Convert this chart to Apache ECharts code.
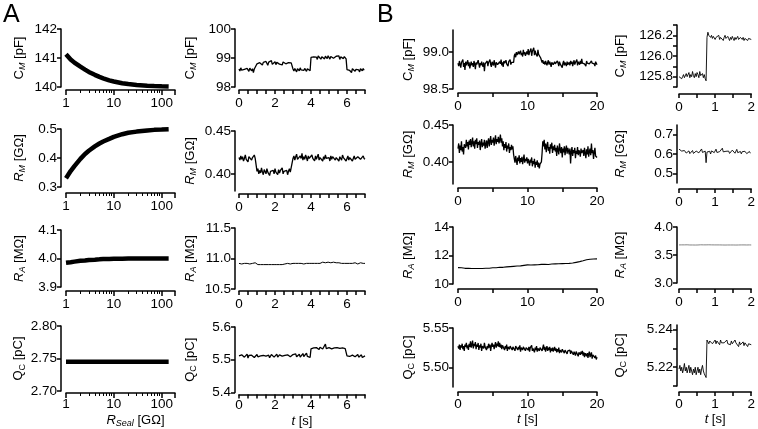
<!DOCTYPE html>
<html><head><meta charset="utf-8">
<script src="https://cdn.jsdelivr.net/npm/echarts@6/dist/echarts.min.js"></script>
<style>html,body{margin:0;padding:0;background:#fff}#c{width:758px;height:429px}</style>
</head><body><div id="c"></div>
<script>
// ================= DATA =================
// Panel A, column 1: dependence on seal resistance (GΩ)
const rSeal = [1,1.25,1.5,2,2.5,3,4,5,6,8,10,15,20,30,50,70,100,140];
const cmSeal = [141.13,140.95,140.84,140.70,140.6,140.52,140.42,140.35,140.3,140.23,140.19,140.13,140.1,140.07,140.045,140.035,140.025,140.02];
const rmSeal = [0.33,0.355,0.372,0.397,0.414,0.425,0.44,0.45,0.457,0.466,0.473,0.482,0.487,0.491,0.495,0.497,0.498,0.499];
const raSeal = [3.985,3.987,3.989,3.992,3.993,3.995,3.996,3.997,3.998,3.998,3.999,3.999,4.0,4.0,4.0,4.0,4.0,4.0];
const qcSeal = [2.745,2.745,2.745,2.745,2.745,2.745,2.745,2.745,2.745,2.745,2.745,2.745,2.745,2.745,2.745,2.745,2.745,2.745];

// Panel A, column 2: time traces, sample interval (s)
const dtA = 0.05;
const cmA = [98.62,98.55,98.66,98.58,98.63,98.52,98.61,98.67,98.57,98.64,98.59,98.54,98.65,98.6,98.56,98.63,98.5,98.62,98.58,98.64,
98.8,98.86,98.78,98.84,98.9,98.81,98.76,98.85,98.83,98.79,98.88,98.82,98.75,98.86,98.8,98.84,98.91,98.78,98.83,98.8,
98.87,98.77,98.85,98.82,98.89,98.79,98.84,98.81,98.76,98.86,98.83,98.9,98.8,98.85,98.78,98.84,98.88,98.8,98.83,98.79,
98.62,98.55,98.64,98.58,98.52,98.63,98.6,98.56,98.66,98.59,98.53,98.62,98.57,98.64,98.6,98.54,98.63,98.58,98.61,98.56,
99.02,99.06,98.97,99.04,99.1,98.98,99.03,98.95,99.07,99.01,99.05,98.96,99.04,99.09,99.0,98.97,99.06,99.02,98.98,99.08,
99.03,98.96,99.05,99.01,99.1,98.99,99.04,98.97,99.06,99.02,99.0,99.07,98.95,99.04,99.01,99.08,98.98,99.05,99.02,98.97,
98.6,98.55,98.64,98.57,98.62,98.5,98.63,98.58,98.66,98.54,98.61,98.57,98.65,98.59,98.52,98.63,98.6,98.56,98.64,98.58,98.62];
const rmA = [0.419,0.416,0.421,0.417,0.42,0.415,0.418,0.422,0.417,0.419,0.414,0.42,0.418,0.421,0.416,0.419,0.417,0.422,0.418,0.416,
0.403,0.406,0.4,0.404,0.401,0.407,0.402,0.399,0.405,0.403,0.4,0.406,0.402,0.404,0.398,0.403,0.405,0.401,0.404,0.4,
0.406,0.402,0.403,0.399,0.405,0.401,0.404,0.402,0.407,0.4,0.403,0.405,0.401,0.404,0.399,0.403,0.406,0.402,0.404,0.401,
0.418,0.421,0.416,0.42,0.423,0.417,0.419,0.415,0.421,0.418,0.424,0.416,0.42,0.417,0.422,0.419,0.415,0.421,0.418,0.42,
0.416,0.422,0.418,0.419,0.415,0.421,0.417,0.42,0.423,0.416,0.419,0.418,0.421,0.415,0.42,0.417,0.422,0.418,0.416,0.42,
0.419,0.415,0.421,0.417,0.42,0.418,0.422,0.416,0.419,0.417,0.421,0.415,0.42,0.418,0.416,0.422,0.419,0.417,0.42,0.415,
0.418,0.421,0.416,0.419,0.417,0.42,0.415,0.418,0.421,0.417,0.419,0.416,0.42,0.418,0.422,0.417,0.419,0.416,0.421,0.418,0.417];
const raA = [10.92,10.93,10.92,10.91,10.93,10.92,10.92,10.93,10.91,10.92,10.93,10.92,10.91,10.92,10.93,10.92,10.92,10.91,10.93,10.92,
10.91,10.9,10.91,10.92,10.9,10.91,10.91,10.9,10.92,10.91,10.9,10.91,10.92,10.9,10.91,10.91,10.9,10.92,10.91,10.9,
10.91,10.92,10.9,10.91,10.91,10.9,10.92,10.91,10.9,10.91,10.92,10.91,10.9,10.91,10.92,10.9,10.91,10.91,10.9,10.91,
10.92,10.93,10.92,10.92,10.93,10.91,10.92,10.93,10.92,10.92,10.93,10.92,10.91,10.93,10.92,10.92,10.93,10.92,10.92,10.93,
10.93,10.92,10.93,10.94,10.92,10.93,10.93,10.92,10.94,10.93,10.92,10.93,10.93,10.94,10.92,10.93,10.93,10.92,10.93,10.94,
10.93,10.92,10.93,10.93,10.92,10.94,10.93,10.92,10.93,10.92,10.93,10.93,10.92,10.93,10.92,10.92,10.93,10.92,10.93,10.92,
10.92,10.92,10.91,10.92,10.93,10.92,10.92,10.91,10.92,10.93,10.92,10.92,10.91,10.92,10.92,10.93,10.92,10.91,10.92,10.92,10.92];
const qcA = [5.512,5.518,5.506,5.515,5.51,5.52,5.508,5.514,5.511,5.517,5.505,5.513,5.516,5.509,5.514,5.51,5.519,5.507,5.513,5.511,
5.516,5.509,5.514,5.504,5.512,5.518,5.51,5.513,5.507,5.515,5.511,5.517,5.509,5.514,5.506,5.512,5.516,5.51,5.513,5.508,
5.514,5.51,5.517,5.508,5.513,5.515,5.509,5.518,5.511,5.514,5.507,5.513,5.516,5.51,5.515,5.512,5.518,5.509,5.514,5.511,
5.516,5.51,5.513,5.518,5.509,5.515,5.512,5.517,5.508,5.514,5.511,5.519,5.51,5.515,5.513,5.52,5.51,5.516,5.512,5.507,
5.533,5.538,5.53,5.536,5.541,5.532,5.537,5.534,5.54,5.531,5.538,5.535,5.543,5.533,5.539,5.536,5.548,5.534,5.538,5.532,
5.537,5.535,5.541,5.533,5.538,5.531,5.536,5.54,5.534,5.537,5.532,5.539,5.535,5.538,5.531,5.536,5.533,5.537,5.534,5.53,
5.512,5.508,5.515,5.51,5.513,5.506,5.514,5.511,5.517,5.509,5.513,5.51,5.516,5.508,5.514,5.511,5.515,5.507,5.513,5.51,5.512];

// Panel B, column 3: 20 s traces
const dtB = 0.1;
const cmB = [98.85,98.81,98.88,98.83,98.79,98.86,98.84,98.9,98.8,98.85,98.76,98.87,98.82,98.84,98.89,98.81,98.86,98.78,98.83,98.87,
98.82,98.85,98.8,98.88,98.84,98.77,98.86,98.83,98.81,98.89,98.84,98.79,98.85,98.82,98.87,98.83,98.8,98.86,98.74,98.84,
98.85,98.82,98.88,98.81,98.86,98.84,98.9,98.83,98.8,98.87,98.85,98.82,98.89,98.84,98.79,98.86,98.88,98.83,98.85,98.81,
98.87,98.84,98.9,98.82,98.86,98.8,98.88,98.85,98.83,98.89,98.84,98.86,98.81,98.87,98.85,98.9,98.83,98.86,98.84,98.88,
98.86,98.95,98.98,98.93,99.0,98.96,98.94,99.01,98.97,98.95,99.02,98.96,98.99,98.94,99.03,98.97,99.0,98.95,98.98,99.01,
98.97,99.04,98.96,99.0,98.98,99.05,98.95,99.01,98.99,99.06,98.96,99.02,98.98,99.0,98.94,99.03,98.97,98.99,98.95,98.92,
98.9,98.86,98.89,98.84,98.87,98.83,98.88,98.85,98.82,98.86,98.89,98.83,98.87,98.84,98.8,98.86,98.88,98.83,98.85,98.87,
98.84,98.86,98.82,98.88,98.85,98.81,98.87,98.84,98.83,98.86,98.79,98.85,98.88,98.82,98.86,98.84,98.81,98.87,98.83,98.85,
98.86,98.82,98.88,98.84,98.87,98.81,98.85,98.89,98.83,98.86,98.84,98.9,98.82,98.87,98.85,98.83,98.88,98.84,98.91,98.85,
98.83,98.87,98.84,98.86,98.81,98.88,98.85,98.83,98.87,98.84,98.86,98.82,98.88,98.85,98.83,98.86,98.84,98.81,98.87,98.85,98.83];
const rmB = [0.418,0.425,0.412,0.422,0.416,0.428,0.414,0.42,0.41,0.424,0.426,0.419,0.43,0.421,0.427,0.417,0.429,0.423,0.431,0.42,
0.426,0.433,0.421,0.428,0.418,0.43,0.424,0.432,0.419,0.427,0.423,0.429,0.416,0.425,0.431,0.42,0.426,0.422,0.43,0.418,
0.424,0.429,0.419,0.427,0.432,0.421,0.428,0.435,0.423,0.43,0.426,0.433,0.422,0.429,0.436,0.424,0.431,0.427,0.434,0.425,
0.43,0.437,0.426,0.432,0.421,0.428,0.416,0.424,0.419,0.427,0.414,0.422,0.418,0.425,0.412,0.42,0.416,0.423,0.417,0.421,
0.41,0.404,0.399,0.408,0.402,0.396,0.406,0.401,0.409,0.398,0.405,0.4,0.407,0.397,0.403,0.41,0.399,0.404,0.401,0.406,
0.398,0.404,0.4,0.395,0.403,0.399,0.406,0.394,0.401,0.397,0.404,0.392,0.4,0.396,0.402,0.393,0.399,0.391,0.397,0.395,
0.4,0.412,0.428,0.421,0.43,0.417,0.425,0.413,0.422,0.427,0.415,0.42,0.411,0.424,0.418,0.426,0.412,0.421,0.416,0.423,
0.414,0.419,0.408,0.422,0.416,0.41,0.425,0.417,0.412,0.42,0.406,0.418,0.413,0.421,0.409,0.417,0.422,0.411,0.419,0.415,
0.41,0.418,0.398,0.414,0.42,0.408,0.416,0.412,0.419,0.405,0.415,0.411,0.42,0.409,0.416,0.413,0.407,0.418,0.412,0.41,
0.416,0.408,0.419,0.412,0.405,0.417,0.41,0.421,0.407,0.414,0.418,0.409,0.425,0.412,0.416,0.404,0.413,0.419,0.408,0.41,0.406];
const dtBra = 0.25;
const raB = [11.15,11.13,11.14,11.11,11.1,11.09,11.1,11.08,11.09,11.08,11.09,11.08,11.09,11.1,11.09,11.11,11.1,11.12,11.11,11.13,
11.14,11.15,11.14,11.16,11.17,11.18,11.17,11.19,11.2,11.21,11.22,11.21,11.24,11.25,11.26,11.28,11.27,11.3,11.31,11.32,
11.34,11.35,11.33,11.36,11.34,11.37,11.35,11.36,11.38,11.37,11.39,11.38,11.37,11.39,11.4,11.39,11.41,11.4,11.42,11.41,
11.43,11.42,11.44,11.43,11.45,11.44,11.47,11.49,11.52,11.54,11.57,11.6,11.63,11.66,11.7,11.72,11.74,11.76,11.75,11.77,11.76];
const qcB = [5.527,5.524,5.529,5.522,5.528,5.525,5.53,5.523,5.527,5.521,5.529,5.526,5.531,5.524,5.528,5.522,5.53,5.526,5.533,5.525,
5.529,5.534,5.524,5.53,5.527,5.532,5.523,5.529,5.526,5.531,5.522,5.528,5.525,5.53,5.521,5.527,5.529,5.524,5.531,5.526,
5.528,5.522,5.527,5.524,5.53,5.525,5.529,5.521,5.527,5.531,5.526,5.529,5.523,5.528,5.532,5.525,5.53,5.527,5.533,5.526,
5.531,5.525,5.529,5.523,5.528,5.526,5.53,5.522,5.527,5.524,5.529,5.521,5.526,5.528,5.523,5.527,5.525,5.529,5.522,5.526,
5.524,5.528,5.521,5.527,5.525,5.529,5.522,5.526,5.523,5.528,5.52,5.525,5.527,5.522,5.526,5.524,5.528,5.521,5.525,5.523,
5.527,5.522,5.526,5.52,5.525,5.523,5.528,5.521,5.524,5.526,5.519,5.525,5.522,5.527,5.52,5.524,5.526,5.521,5.525,5.523,
5.527,5.521,5.525,5.529,5.522,5.526,5.52,5.524,5.527,5.521,5.525,5.522,5.526,5.519,5.524,5.521,5.525,5.52,5.523,5.526,
5.521,5.524,5.519,5.523,5.52,5.525,5.518,5.522,5.524,5.519,5.523,5.521,5.525,5.518,5.522,5.52,5.524,5.517,5.521,5.523,
5.519,5.522,5.517,5.521,5.519,5.523,5.516,5.52,5.522,5.515,5.52,5.518,5.522,5.514,5.519,5.521,5.516,5.52,5.517,5.521,
5.515,5.519,5.513,5.518,5.52,5.514,5.518,5.512,5.517,5.52,5.513,5.516,5.519,5.511,5.516,5.514,5.518,5.512,5.515,5.51,5.513];

// Panel B, column 4: 2 s traces
const dtC = 0.025;
const cmC = [125.8,125.79,125.81,125.78,125.8,125.82,125.79,125.8,125.83,125.8,
125.81,125.84,125.79,125.82,125.8,125.85,125.81,125.79,125.83,125.8,
125.84,125.82,125.79,125.85,125.81,125.8,125.83,125.79,125.82,125.78,
125.76,126.18,126.23,126.2,126.21,126.18,126.2,126.17,126.19,126.2,
126.16,126.18,126.19,126.17,126.2,126.16,126.18,126.17,126.19,126.15,
126.18,126.2,126.17,126.16,126.19,126.17,126.15,126.18,126.16,126.19,
126.17,126.15,126.18,126.16,126.17,126.19,126.16,126.15,126.18,126.17,
126.16,126.18,126.15,126.17,126.16,126.18,126.15,126.17,126.16,126.17,126.16];
const rmC = [0.625,0.62,0.628,0.615,0.622,0.61,0.618,0.612,0.605,0.614,
0.608,0.616,0.602,0.611,0.606,0.618,0.603,0.612,0.608,0.615,
0.61,0.622,0.606,0.614,0.61,0.626,0.608,0.613,0.6,0.615,
0.555,0.61,0.62,0.605,0.614,0.6,0.616,0.609,0.618,0.607,
0.613,0.625,0.608,0.616,0.604,0.612,0.62,0.606,0.63,0.611,
0.618,0.605,0.614,0.622,0.609,0.615,0.603,0.613,0.608,0.62,
0.611,0.617,0.604,0.612,0.624,0.607,0.615,0.609,0.613,0.601,
0.612,0.618,0.606,0.614,0.609,0.602,0.611,0.607,0.613,0.604,0.61];
const raC = [3.68,3.682,3.679,3.681,3.68,3.678,3.681,3.68,3.679,3.682,
3.68,3.681,3.679,3.68,3.682,3.679,3.681,3.68,3.678,3.681,
3.68,3.679,3.681,3.68,3.682,3.679,3.68,3.681,3.679,3.68,
3.681,3.679,3.68,3.682,3.68,3.679,3.681,3.68,3.678,3.68,
3.681,3.679,3.68,3.681,3.679,3.68,3.682,3.68,3.679,3.681,
3.68,3.678,3.68,3.681,3.679,3.68,3.681,3.679,3.68,3.68,
3.679,3.681,3.68,3.678,3.68,3.681,3.679,3.68,3.679,3.68,
3.681,3.679,3.68,3.678,3.68,3.679,3.681,3.679,3.68,3.678,3.679];
const qcC = [5.219,5.221,5.218,5.22,5.217,5.219,5.222,5.218,5.22,5.217,
5.219,5.221,5.217,5.22,5.218,5.216,5.219,5.217,5.22,5.216,
5.218,5.22,5.217,5.219,5.216,5.219,5.221,5.218,5.2165,5.2155,
5.2145,5.2345,5.2335,5.2325,5.234,5.233,5.2345,5.2325,5.2335,5.233,
5.2345,5.2325,5.234,5.233,5.2335,5.232,5.2345,5.233,5.2325,5.234,
5.233,5.2335,5.232,5.2345,5.2325,5.233,5.2335,5.232,5.234,5.2325,
5.2335,5.232,5.2345,5.233,5.2325,5.2335,5.231,5.2335,5.232,5.233,
5.2325,5.2335,5.2315,5.233,5.232,5.2325,5.231,5.2325,5.232,5.2315,5.232];

// Axis tick / label values
const xLabelsA1 = [1,10,100];
const xMinorA1 = [2,3,4,5,6,7,8,9,20,30,40,50,60,70,80,90];
const xLabelsA2 = [0,2,4,6];
const xLabelsB1 = [0,10,20];
const xLabelsB2 = [0,1,2];
const yTicks = [
  [[140,141,142],[0.3,0.4,0.5],[3.9,4.0,4.1],[2.70,2.75,2.80]],
  [[98,99,100],[0.40,0.45],[10.5,11.0,11.5],[5.4,5.5,5.6]],
  [[98.5,99.0],[0.40,0.45],[10,12,14],[5.50,5.55]],
  [[125.7,125.8,125.9,126.0,126.1,126.2,126.3],[0.5,0.6,0.7],[3.0,3.5,4.0],[5.21,5.22,5.23,5.24]]
];
const yLabels = [
  [[140,141,142],[0.3,0.4,0.5],[3.9,4.0,4.1],[2.70,2.75,2.80]],
  [[98,99,100],[0.40,0.45],[10.5,11.0,11.5],[5.4,5.5,5.6]],
  [[98.5,99.0],[0.40,0.45],[10,12,14],[5.50,5.55]],
  [[125.8,126.0,126.2],[0.5,0.6,0.7],[3.0,3.5,4.0],[5.22,5.24]]
];
const yDecimals = [[0,1,1,2],[0,2,1,1],[1,2,0,2],[1,1,1,2]];
const yRanges = [
  [[140,142],[0.3,0.5],[3.9,4.1],[2.70,2.80]],
  [[98,100],[0.38,0.45],[10.5,11.5],[5.4,5.6]],
  [[98.5,99.3],[0.37,0.45],[10,14],[5.475,5.55]],
  [[125.7,126.3],[0.45,0.75],[3.0,4.0],[5.21,5.2425]]
];
const yNames = ['{u|C}{si|M}{u| [pF]}','{i|R}{si|M}{u| [GΩ]}','{i|R}{si|A}{u| [MΩ]}','{u|Q}{s|C}{u| [pC]}'];

// ================= LAYOUT / STYLE =================
const FF = "'Liberation Sans', Arial, sans-serif";
const FS = 13.5;
const colBox = [
  {left:66, width:109, yOff:5, nameGap:34},
  {left:239, width:126, yOff:4, nameGap:37},
  {left:458, width:139, yOff:5, nameGap:37},
  {left:679, width:74, yOff:2, nameGap:49}
];
const rowBox = [
  [{top:29,h:58,xOff:3,m:6},{top:129,h:58,xOff:6,m:6},{top:230,h:57,xOff:4,m:6},{top:326,h:70,xOff:2,m:4}],
  [{top:29,h:58,xOff:3,m:6},{top:131,h:60,xOff:3,m:6},{top:228,h:61,xOff:2,m:6},{top:327,h:70,xOff:2,m:4}],
  [{top:30,h:59,xOff:4,m:6},{top:125,h:59,xOff:4,m:6},{top:227,h:57,xOff:5,m:6},{top:328,h:59,xOff:5,m:5}],
  [{top:25,h:62,xOff:7,m:6},{top:125,h:58,xOff:6,m:6},{top:227,h:56,xOff:6,m:6},{top:325,h:61,xOff:6,m:5}]
];
const rich = {
  u:{fontSize:13,fontFamily:FF,color:'#000',lineHeight:16},
  i:{fontSize:13,fontFamily:FF,fontStyle:'italic',color:'#000',lineHeight:16},
  s:{fontSize:9,fontFamily:FF,color:'#000',verticalAlign:'bottom',lineHeight:11},
  si:{fontSize:9,fontFamily:FF,fontStyle:'italic',color:'#000',verticalAlign:'bottom',lineHeight:11}
};
const axLine = {show:true,onZero:false,lineStyle:{color:'#000',width:1.5}};
function pick(list){return v => {const m=list.find(l=>Math.abs(l-v)<1e-6*Math.max(1,Math.abs(l)));return m===undefined?'':String(m);};}
function timePairs(dt, arr){return arr.map((v,i)=>[+(i*dt).toFixed(4), v]);}
function zip(xs, ys){return xs.map((x,i)=>[x, ys[i]]);}

const seriesData = [
  [zip(rSeal,cmSeal), zip(rSeal,rmSeal), zip(rSeal,raSeal), zip(rSeal,qcSeal)],
  [timePairs(dtA,cmA), timePairs(dtA,rmA), timePairs(dtA,raA), timePairs(dtA,qcA)],
  [timePairs(dtB,cmB), timePairs(dtB,rmB), timePairs(dtBra,raB), timePairs(dtB,qcB)],
  [timePairs(dtC,cmC), timePairs(dtC,rmC), timePairs(dtC,raC), timePairs(dtC,qcC)]
];
const lineW = [[4.5,4.5,4.5,4.5],[1.3,1.3,1,1.3],[1.3,1.3,1.1,1.3],[0.9,0.9,0.9,0.9]];
const lineC = [['#000','#000','#000','#000'],['#000','#000','#000','#000'],['#000','#000','#000','#000'],['#000','#000','#777','#000']];

const xSpec = [
  {type:'log', min:1, max:190, labels:xLabelsA1},
  {type:'value', min:0, max:7, interval:0.5, labels:xLabelsA2},
  {type:'value', min:0, max:20, interval:5, labels:xLabelsB1},
  {type:'value', min:0, max:2, interval:0.5, labels:xLabelsB2}
];

const grid=[], xAxis=[], yAxis=[], series=[];
let k=0;
const minorAxes=[];
for(let c=0;c<4;c++){
  for(let r=0;r<4;r++){
    const cb=colBox[c], rb=rowBox[c][r], xs=xSpec[c];
    grid.push({left:cb.left, top:rb.top, width:cb.width, height:rb.h, containLabel:false});
    const xa = {gridIndex:k, type:xs.type, position:'bottom', min:xs.min, max:xs.max, offset:rb.xOff,
      axisLine:axLine,
      axisTick:{show:true,length:4,lineStyle:{color:'#000',width:1.5}},
      axisLabel:{color:'#000',fontSize:FS,fontFamily:FF,margin:rb.m,formatter:pick(xs.labels),hideOverlap:false,showMinLabel:true,showMaxLabel:true},
      splitLine:{show:false}};
    if(xs.type==='log'){
      xa.logBase=10; xa.axisTick.length=5;
      minorAxes.push({gridIndex:k, type:'log', position:'bottom', logBase:10, min:xs.min, max:xs.max, offset:rb.xOff,
        axisLine:{show:false}, axisLabel:{show:false}, splitLine:{show:false},
        axisTick:{show:true,length:3,customValues:xMinorA1,lineStyle:{color:'#000',width:1}}});
    }
    else {xa.interval=xs.interval;}
    if(r===3){
      xa.name = c===0 ? '{i|R}{si|Seal}{u| [GΩ]}' : '{i|t}{u| [s]}';
      xa.nameLocation='middle';
      xa.nameGap = 19;
      xa.nameTextStyle={rich:rich, padding: c===0?[0,0,0,30]:0};
    }
    xAxis.push(xa);
    const yr=yRanges[c][r], dec=yDecimals[c][r];
    yAxis.push({gridIndex:k, type:'value', min:yr[0], max:yr[1], offset:cb.yOff,
      axisLine:axLine,
      axisTick:{show:true,length:4,customValues:yTicks[c][r],lineStyle:{color:'#000',width:1.5}},
      axisLabel:{color:'#000',fontSize:FS,fontFamily:FF,margin:4,customValues:yLabels[c][r],formatter:v=>(+v).toFixed(dec),hideOverlap:false},
      splitLine:{show:false},
      name:yNames[r], nameLocation:'middle', nameGap:cb.nameGap, nameTextStyle:{rich:rich}});
    series.push({type:'line', xAxisIndex:k, yAxisIndex:k, data:seriesData[c][r], showSymbol:false, symbol:'none',
      lineStyle:{color:lineC[c][r], width:lineW[c][r]}, silent:true, animation:false});
    k++;
  }
}
minorAxes.forEach(a=>xAxis.push(a));

const chart = echarts.init(document.getElementById('c'), null, {renderer:'canvas'});
chart.setOption({
  backgroundColor:'#fff', animation:false,
  grid, xAxis, yAxis, series,
  graphic:[
    {type:'text', left:3, top:3, style:{text:'A', fontSize:25, fontFamily:FF, fill:'#000'}},
    {type:'text', left:377, top:3, style:{text:'B', fontSize:25, fontFamily:FF, fill:'#000'}}
  ]
});
</script>
</body></html>
